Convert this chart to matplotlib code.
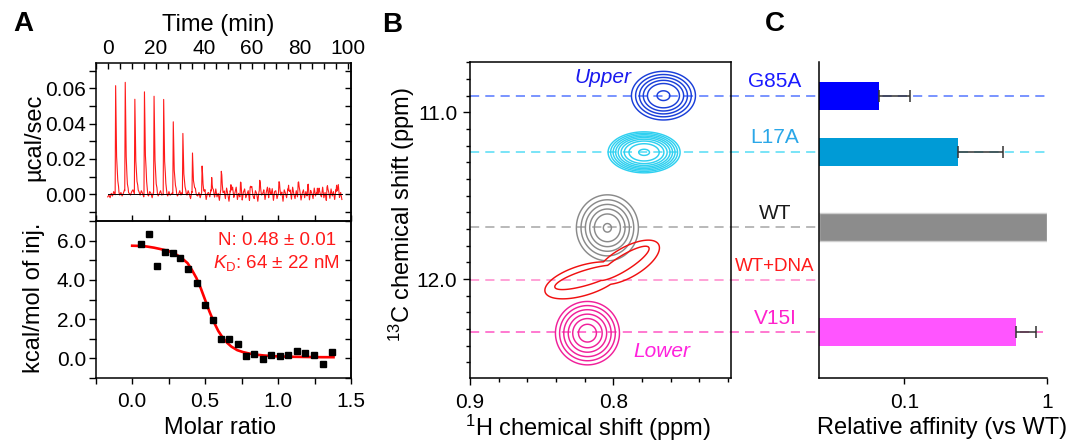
import numpy as np
import matplotlib
matplotlib.use('Agg')
import matplotlib.pyplot as plt
from matplotlib.ticker import MultipleLocator, FixedLocator, FixedFormatter, FormatStrFormatter, NullLocator, NullFormatter
from matplotlib.transforms import blended_transform_factory, ScaledTranslation
from matplotlib.lines import Line2D

plt.rcParams['font.family'] = ['Liberation Sans', 'DejaVu Sans']
plt.rcParams['mathtext.fontset'] = 'custom'
plt.rcParams['mathtext.rm'] = 'Liberation Sans'
plt.rcParams['mathtext.it'] = 'Liberation Sans:italic'
plt.rcParams['axes.linewidth'] = 1.1

# ---------------- data ----------------
# Panel A, raw thermogram
inj_time = [3.1, 7.1, 11.1, 15.1, 19.1, 23.1, 27.1, 31.1, 35.1, 39.1, 43.1, 47.1,
            51.1, 55.1, 59.1, 63.1, 67.1, 71.1, 75.1, 79.1, 83.1, 87.1, 91.1, 95.1]
inj_height = [0.0625, 0.0625, 0.0543, 0.0581, 0.0552, 0.0547, 0.0419, 0.0350, 0.0234,
              0.0149, 0.0088, 0.0095, 0.0052, 0.0060, 0.0045, 0.0055, 0.0040, 0.0050,
              0.0045, 0.0052, 0.0040, 0.0048, 0.0042, 0.0050]
baseline_time = np.arange(0, 97.6, 0.5)
baseline_noise_milli = [
    -1.5, -0.5, -2.0, 0.5, -1.0, 1.5, 0.0, -1.5, 1.0, 2.0, -0.5, 1.0, -1.0, 0.5, 2.5, 0.0, -1.5, 1.0, 0.5, -0.5,
    1.5, 2.5, 0.5, -1.0, 1.0, 3.0, 1.5, -0.5, 2.0, 0.5, -1.5, 1.0, 2.5, 0.0, -1.0, 1.5, 0.5, -2.0, 1.0, 0.0,
    -0.5, 1.5, -1.0, 0.5, 2.0, -0.5, 0.0, -1.5, 1.0, 0.5, -1.0, 1.5, -0.5, 0.0, 1.0, -2.0, 0.5, 1.5, -1.0, 0.0,
    2.0, -0.5, 1.0, -1.5, 0.5, 1.0, -0.5, 2.0, 0.0, -2.5, 1.5, -1.0, 0.5, 2.5, -0.5, -1.0, 1.0, -2.0, 0.5, 1.5,
    -1.0, 2.0, -3.0, 0.5, 1.0, -1.5, 2.5, -0.5, 1.0, -2.0,
    3.0, -1.5, 0.5, -3.5, 2.0, 4.5, -1.0, 1.5, -2.5, 3.5, 0.0, -4.0, 2.0, -1.0, 3.0, -2.0, 1.0, 4.0, -3.0, 0.5,
    -1.5, 2.5, -4.5, 1.0, 3.0, -2.0, 0.0, 2.0, -3.5, 1.5, 3.5, -1.0, -2.5, 2.0, 0.5, -4.0, 1.5, 3.0, -1.5, 0.0,
    2.5, -3.0, 1.0, 4.0, -2.0, 0.5, -1.0, 3.0, -3.5, 1.5, 2.0, -2.5, 0.0, 3.5, -1.5, 1.0, -4.0, 2.5, 0.5, -2.0,
    3.0, -1.0, 1.5, -3.0, 4.0, 0.0, -2.5, 2.0, -1.5, 3.5, 1.0, -3.5, 0.5, 2.5, -2.0, 1.5, -1.0, 3.0, -4.0, 2.0,
    0.5, -2.5, 3.5, -1.0, 1.0, -3.0, 2.5, 0.0, -1.5, 4.0, -2.0, 1.0, -3.5, 2.0, 0.5, -2.5, 3.0, -1.0, 1.5, -3.0,
    2.5, -1.5, 4.5, -2.0, 1.0, -3.0]

# Panel A, integrated heats
molar_ratio = [0.063, 0.113, 0.168, 0.222, 0.277, 0.331, 0.386, 0.443, 0.497, 0.552, 0.607, 0.663,
               0.722, 0.781, 0.838, 0.895, 0.954, 1.013, 1.070, 1.127, 1.186, 1.249, 1.309, 1.370]
heat = [5.83, 6.34, 4.72, 5.40, 5.35, 5.14, 4.53, 3.83, 2.71, 1.98, 1.01, 1.01,
        0.73, 0.12, 0.20, -0.03, 0.17, 0.12, 0.15, 0.37, 0.27, 0.15, -0.27, 0.32]
fit_x = [0.0, 0.05, 0.10, 0.15, 0.20, 0.25, 0.30, 0.34, 0.38, 0.41, 0.44, 0.47, 0.50, 0.53,
         0.56, 0.59, 0.62, 0.65, 0.68, 0.72, 0.76, 0.80, 0.85, 0.90, 0.95, 1.00, 1.10, 1.20, 1.30, 1.38]
fit_y = [5.74, 5.73, 5.70, 5.64, 5.56, 5.47, 5.30, 5.11, 4.85, 4.50, 4.10, 3.58, 2.98, 2.38,
         1.85, 1.40, 1.06, 0.80, 0.60, 0.42, 0.32, 0.25, 0.19, 0.15, 0.12, 0.10, 0.08, 0.07, 0.06, 0.06]

# Panel B, peak centres (1H ppm, 13C ppm)
peak_names = ['G85A', 'L17A', 'WT', 'WT+DNA', 'V15I']
peak_H = [0.7651, 0.7786, 0.8042, 0.8056, 0.8181]
peak_C = [10.900, 11.240, 11.693, 11.960, 12.325]
ref_C = [10.900, 11.236, 11.690, 12.006, 12.320]

# Panel C, relative affinity (vs WT)
affinity = [0.067, 0.237, 1.0, None, 0.607]
affinity_err = [0.042, 0.252, None, None, 0.223]

# ---------------- styles ----------------
W, H = 1067, 441
fig = plt.figure(figsize=(W / 100, H / 100), dpi=100)

def ax_rect(l, t, r, b):
    return [l / W, (H - b) / H, (r - l) / W, (b - t) / H]

TICK_FS = 15
LAB_FS = 17

axT = fig.add_axes(ax_rect(95.7, 63.3, 351, 221))
axL = fig.add_axes(ax_rect(95.7, 221, 351, 378))
axB = fig.add_axes(ax_rect(470, 62, 731, 378))
axC = fig.add_axes(ax_rect(819.3, 62, 1047.3, 378))
for a in (axT, axL, axB, axC):
    a.set_facecolor('none')

# ---- Panel A top: thermogram ----
shape_dt = [0.0, 0.2, 0.6, 1.1, 1.6]
shape_f = [0.0, 1.0, 0.35, 0.1, 0.0]
t_all = list(baseline_time)
for ti in inj_time:
    t_all += [ti + d for d in shape_dt]
t_all = np.unique(np.array(t_all))
y_all = np.interp(t_all, baseline_time, np.array(baseline_noise_milli) * 1e-3)
for ti, hi in zip(inj_time, inj_height):
    y_all = y_all + np.interp(t_all, np.array(shape_dt) + ti, np.array(shape_f) * hi, left=0, right=0)
axT.plot(t_all, y_all, color='#ff1a1a', lw=0.8, zorder=2)
axT.plot([baseline_time[0], baseline_time[-1]], [0, 0], color='black', lw=0.7, zorder=3)
axT.set_xlim(-5, 101.3)
axT.set_ylim(-0.0152, 0.0743)
axT.xaxis.tick_top()
axT.xaxis.set_label_position('top')
axT.xaxis.set_major_locator(MultipleLocator(20))
axT.xaxis.set_minor_locator(MultipleLocator(5))
axT.yaxis.set_major_locator(FixedLocator([0.0, 0.02, 0.04, 0.06]))
axT.yaxis.set_minor_locator(MultipleLocator(0.01))
axT.yaxis.set_major_formatter(FormatStrFormatter('%.2f'))
axT.tick_params(axis='x', which='both', direction='in', top=True, bottom=False, length=4, width=1, labelsize=TICK_FS, pad=4)
axT.tick_params(axis='y', which='both', direction='out', left=True, right=False, length=5, width=1, labelsize=TICK_FS, pad=2)
axT.set_xlabel('Time (min)', fontsize=LAB_FS)
axT.xaxis.set_label_coords(0.478, 1.243)
axT.xaxis.label.set_va('center')
axT.set_ylabel('µcal/sec', fontsize=LAB_FS)
axT.yaxis.set_label_coords(-0.242, 0.53)
axT.yaxis.label.set_va('center')
axTr = axT.secondary_yaxis('right')
axTr.yaxis.set_major_locator(MultipleLocator(0.01))
axTr.yaxis.set_major_formatter(NullFormatter())
axTr.tick_params(direction='in', length=4, width=1)

# ---- Panel A bottom: binding isotherm ----
axL.plot(fit_x, fit_y, color='#ff0000', lw=1.9, zorder=2)
axL.plot(molar_ratio, heat, 's', color='black', ms=4.3, zorder=3)
axL.set_xlim(-0.25, 1.5)
axL.set_ylim(-1.0, 7.0)
axL.xaxis.set_major_locator(FixedLocator([0.0, 0.5, 1.0, 1.5]))
axL.xaxis.set_minor_locator(MultipleLocator(0.25))
axL.xaxis.set_major_formatter(FormatStrFormatter('%.1f'))
axL.yaxis.set_major_locator(FixedLocator([0.0, 2.0, 4.0, 6.0]))
axL.yaxis.set_minor_locator(MultipleLocator(1.0))
axL.yaxis.set_major_formatter(FormatStrFormatter('%.1f'))
axL.tick_params(axis='x', which='both', direction='out', bottom=True, top=True, length=4, width=1, labelsize=TICK_FS, pad=6)
axL.tick_params(axis='y', which='both', direction='out', left=True, length=5, width=1, labelsize=TICK_FS, pad=2)
axLr = axL.secondary_yaxis('right')
axLr.yaxis.set_major_locator(MultipleLocator(1.0))
axLr.yaxis.set_major_formatter(NullFormatter())
axLr.tick_params(direction='in', length=4, width=1)
axL.set_xlabel('Molar ratio', fontsize=LAB_FS)
axL.xaxis.set_label_coords(0.487, -0.318)
axL.xaxis.label.set_va('center')
axL.set_ylabel('kcal/mol of inj.', fontsize=LAB_FS)
axL.yaxis.set_label_coords(-0.242, 0.513)
axL.yaxis.label.set_va('center')
axL.text(0.94, 0.877, 'N: 0.48 ± 0.01', transform=axL.transAxes, ha='right', va='center',
         color='#ff1a1a', fontsize=13.5)
axL.text(0.955, 0.734, r'$K_\mathrm{D}$: 64 ± 22 nM', transform=axL.transAxes, ha='right', va='center',
         color='#ff1a1a', fontsize=13.5)

# ---- Panel B: HSQC contours ----
B_XLIM = (0.9, 0.718)
B_YLIM = (12.594, 10.698)
axB.set_xlim(*B_XLIM)
axB.set_ylim(*B_YLIM)
PX_PER_H = 261.0 / (B_XLIM[0] - B_XLIM[1])
PX_PER_C = 316.0 / (B_YLIM[0] - B_YLIM[1])

contour_colors = ['#1a3fd9', '#2fd0f0', '#8a8a8a', '#f01010', '#f0209a']
# (semi-axis x px, semi-axis y px, angle deg, offset x px, offset y px, radii)
contour_shapes = [
    [(32, 24.3, 0, 0, 0, [1.0, 0.87, 0.75, 0.63, 0.5, 0.2])],
    [(36, 20.5, 0, 0, 0, [1.0, 0.93, 0.86, 0.79, 0.72, 0.64, 0.55, 0.42, 0.15])],
    [(31, 33, 0, 0, 0, [1.0, 0.85, 0.71, 0.57, 0.42, 0.13])],
    [(40, 15, 17, -22, -8, [1.0]), (36, 15, 30, 22, 10, [1.0]),
     (34, 7.5, 17, -18, -5, [1.0]), (30, 7.5, 32, 18, 9, [1.0])],
    [(32, 31.7, 0, 0, 0, [1.0, 0.87, 0.74, 0.6, 0.46, 0.28])],
]

def ellipse_field(HH, CC, h0, c0, a_px, b_px, ang, dx, dy):
    X = (h0 - HH) * PX_PER_H - dx
    Y = (c0 - CC) * PX_PER_C - dy
    t = np.deg2rad(ang)
    u = X * np.cos(t) + Y * np.sin(t)
    v = -X * np.sin(t) + Y * np.cos(t)
    return np.sqrt((u / a_px) ** 2 + (v / b_px) ** 2)

def draw_peak(ax, h0, c0, shapes, color):
    hh = np.linspace(h0 - 0.08, h0 + 0.08, 321)
    cc = np.linspace(c0 - 0.6, c0 + 0.6, 321)
    HH, CC = np.meshgrid(hh, cc)
    if len(shapes) == 1:
        a_px, b_px, ang, dx, dy, radii = shapes[0]
        R = ellipse_field(HH, CC, h0, c0, a_px, b_px, ang, dx, dy)
        ax.contour(HH, CC, R, levels=sorted(radii), colors=color, linewidths=1.05, zorder=3)
    else:
        # two-lobed band: union of lobes for each contour level (outer pair, inner pair)
        for k in range(0, len(shapes), 2):
            R1 = ellipse_field(HH, CC, h0, c0, *shapes[k][:5])
            R2 = ellipse_field(HH, CC, h0, c0, *shapes[k + 1][:5])
            R = np.minimum(R1, R2)
            ax.contour(HH, CC, R, levels=[1.0], colors=color, linewidths=1.05, zorder=3)

for h0, c0, col, shapes in zip(peak_H, peak_C, contour_colors, contour_shapes):
    draw_peak(axB, h0, c0, shapes, col)

axB.xaxis.set_major_locator(FixedLocator([0.9, 0.8]))
axB.xaxis.set_minor_locator(MultipleLocator(0.02))
axB.xaxis.set_major_formatter(FormatStrFormatter('%.1f'))
axB.yaxis.set_major_locator(FixedLocator([11.0, 12.0]))
axB.yaxis.set_minor_locator(MultipleLocator(0.1))
axB.yaxis.set_major_formatter(FormatStrFormatter('%.1f'))
axB.tick_params(which='major', direction='out', length=5, width=1, labelsize=TICK_FS, pad=4)
axB.tick_params(which='minor', direction='out', length=3, width=1)
axB.tick_params(axis='x', pad=6)
axB.set_xlabel(r'$^{1}$H chemical shift (ppm)', fontsize=LAB_FS)
axB.xaxis.set_label_coords(0.453, -0.158)
axB.xaxis.label.set_va('center')
axB.set_ylabel(r'$^{13}$C chemical shift (ppm)', fontsize=LAB_FS)
axB.yaxis.set_label_coords(-0.262, 0.517)
axB.yaxis.label.set_va('center')
axB.text(0.8072, 10.79, 'Upper', color='#1a1aee', style='italic', fontsize=15, ha='center', va='center')
axB.text(0.7662, 12.434, 'Lower', color='#ff22dd', style='italic', fontsize=15, ha='center', va='center')

# ---- dashed reference lines spanning B and C ----
line_colors = ['#5577ff', '#55ddf5', '#a6a6a6', '#ff88cc', '#ff55c4']
line_end_px = [1045, 1045, 1045, 819, 1043]
trans_line = blended_transform_factory(fig.transFigure, axB.transData)
for yv, col, xe in zip(ref_C, line_colors, line_end_px):
    fig.add_artist(Line2D([470 / W, xe / W], [yv, yv], transform=trans_line, color=col,
                          lw=1.1, dashes=(6, 4), zorder=-1))

# ---- Panel C: relative affinity bars ----
bar_colors = ['#0000ff', '#009bd6', '#8c8c8c', None, '#ff55ff']
label_colors = ['#1a1aff', '#2aa7e8', '#1a1a1a', '#ff1a1a', '#ff22cc']
label_sizes = [15, 15, 15, 13.5, 15]
C_LEFT = 0.02547
axC.set_xscale('log')
axC.set_xlim(C_LEFT, 1.0)
axC.set_ylim(*B_YLIM)
BAR_H = 28 / PX_PER_C
for yv, val, err, col in zip(ref_C, affinity, affinity_err, bar_colors):
    if val is None:
        continue
    axC.barh(yv, val - C_LEFT, left=C_LEFT, height=BAR_H, color=col,
             edgecolor='#cfcfcf' if col == '#8c8c8c' else 'none', lw=1, zorder=2)
    if err is not None:
        axC.errorbar([val], [yv], xerr=[[0], [err]], fmt='none', ecolor='#333333',
                     elinewidth=1.1, capsize=4.5, capthick=1.1, zorder=3)
axC.spines['top'].set_visible(False)
axC.spines['right'].set_visible(False)
axC.xaxis.set_major_locator(FixedLocator([0.1, 1.0]))
axC.xaxis.set_major_formatter(FixedFormatter(['0.1', '1']))
axC.xaxis.set_minor_locator(NullLocator())
axC.yaxis.set_major_locator(NullLocator())
axC.yaxis.set_minor_locator(NullLocator())
axC.tick_params(axis='x', direction='out', length=4, width=1, labelsize=TICK_FS, pad=7)
axC.set_xlabel('Relative affinity (vs WT)', fontsize=LAB_FS)
axC.xaxis.set_label_coords(0.54, -0.158)
axC.xaxis.label.set_va('center')

trans_lab = blended_transform_factory(fig.transFigure, axC.transData) + \
    ScaledTranslation(0, 14 / 100, fig.dpi_scale_trans)
for name, yv, col, fs in zip(peak_names, ref_C, label_colors, label_sizes):
    fig.text(775 / W, yv, name, transform=trans_lab, color=col, fontsize=fs, ha='center', va='center')

# ---- panel letters ----
for letter, x, y in [('A', 23, 24), ('B', 392, 24.5), ('C', 775, 24)]:
    fig.text(x / W, 1 - y / H, letter, fontsize=20, fontweight='bold', ha='center', va='center')

fig.savefig('out.png', dpi=100)
